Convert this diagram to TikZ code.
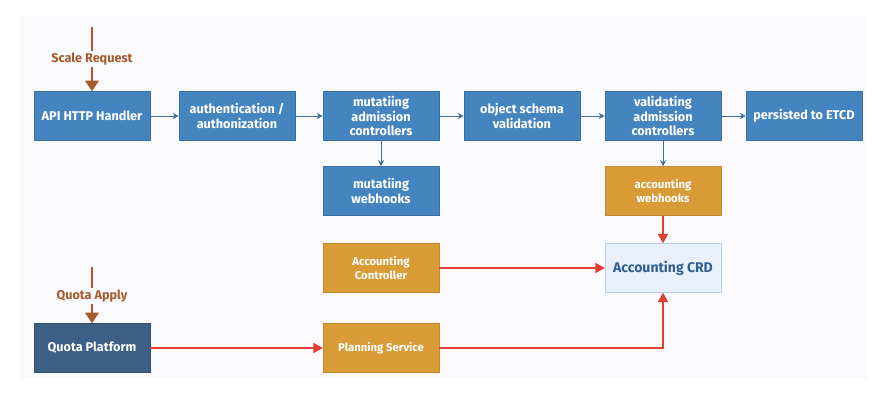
\documentclass[tikz,border=0pt]{standalone}
\usepackage{fontspec}
\setmainfont{Fira Sans}
\usetikzlibrary{arrows.meta}

\definecolor{panelgray}{HTML}{FAFAFC}
\definecolor{stepblue}{HTML}{4585BF}
\definecolor{quotablue}{HTML}{3D5F85}
\definecolor{acctorange}{HTML}{D99B36}
\definecolor{crdfill}{HTML}{E9F0FA}
\definecolor{crdline}{HTML}{B8CEE8}
\definecolor{crdtext}{HTML}{2F5F91}
\definecolor{flowblue}{HTML}{3F6F9F}
\definecolor{quotared}{HTML}{E53B30}
\definecolor{reqbrown}{HTML}{A65A2B}

\begin{document}
\begin{tikzpicture}[x=0.75pt, y=-0.75pt,
    stage/.style={rectangle, draw=stepblue!85!black, fill=stepblue, text=white, font=\fontsize{9.5}{10.6}\selectfont\bfseries,
        align=center, minimum width=87pt, minimum height=36.75pt, inner sep=1pt, line width=0.4pt},
    acct/.style={stage, draw=acctorange!90!black, fill=acctorange, font=\fontsize{8.5}{9.8}\selectfont\bfseries},
    flow/.style={draw=flowblue, line width=0.75pt, -{Stealth[length=4.5pt, width=4.5pt]}},
    quotaflow/.style={draw=quotared, line width=1pt, -{Triangle[length=7pt, width=7.5pt]}},
    request/.style={draw=reqbrown, line width=2pt, -{Triangle[length=8pt, width=10pt]}},
    reqlabel/.style={fill=panelgray, text=reqbrown, inner sep=1.5pt, font=\fontsize{9.5}{10}\selectfont\bfseries}]

    \useasboundingbox (0,0) rectangle (884,410);
    \fill[white] (0,0) rectangle (884,410);
    \fill[panelgray] (20,16) rectangle (867,379);

    % Draw the admission chain
    \node (api) at (92, 116) [stage] {API HTTP Handler};
    \node (authn) at (237, 116) [stage] {authentication /\\authonization};
    \node (mutadm) at (381, 116) [stage] {mutatiing\\admission\\controllers};
    \node (schema) at (522, 116) [stage] {object schema\\validation};
    \node (valadm) at (663, 116) [stage] {validating\\admission\\controllers};
    \node (etcd) at (804, 116) [stage] {persisted to ETCD};

    % Draw webhooks
    \node (mutwh) at (381, 191) [stage] {mutatiing\\webhooks};
    \node (accwh) at (663, 191) [acct] {accounting\\webhooks};

    % Draw the accounting side
    \node (accctl) at (381, 268) [acct] {Accounting\\Controller};
    \node (acccrd) at (663, 268) [stage, draw=crdline, fill=crdfill, text=crdtext, font=\fontsize{10.5}{12}\selectfont\bfseries] {Accounting CRD};
    \node (quota) at (92, 348) [stage, draw=quotablue!85!black, fill=quotablue] {Quota Platform};
    \node (planning) at (381, 348) [acct] {Planning Service};

    % Draw the requests coming in
    \coordinate (scalesrc) at (92, 27);
    \coordinate (quotasrc) at (92, 267);
    \draw[request] (scalesrc) -- node[reqlabel, pos=0.5] {Scale Request} (api);
    \draw[request] (quotasrc) -- node[reqlabel, pos=0.52] {Quota Apply} (quota);

    % Draw edges of the chain
    \draw[flow] (api) -- (authn);
    \draw[flow] (authn) -- (mutadm);
    \draw[flow] (mutadm) -- (schema);
    \draw[flow] (schema) -- (valadm);
    \draw[flow] (valadm) -- (etcd);
    \draw[flow] (mutadm) -- (mutwh);
    \draw[flow] (valadm) -- (accwh);

    % Draw edges into the CRD
    \draw[quotaflow] (accwh) -- (acccrd);
    \draw[quotaflow] (accctl) -- (acccrd);
    \draw[quotaflow] (quota) -- (planning);
    \draw[quotaflow] (planning) -| (acccrd);
\end{tikzpicture}
\end{document}
